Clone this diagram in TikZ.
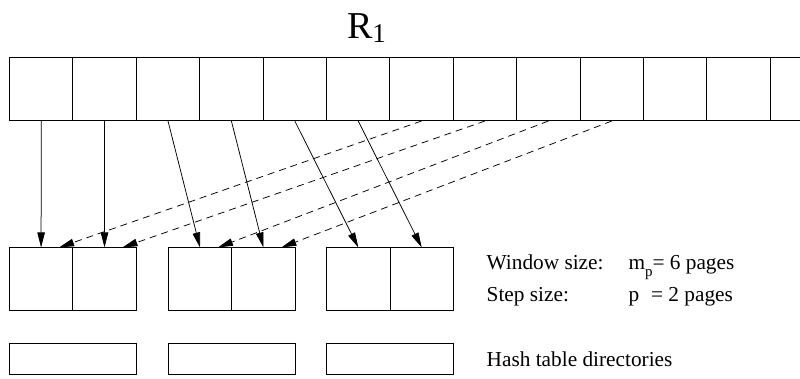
\documentclass[tikz,border=0pt]{standalone}
\usepackage{fontspec}
\setmainfont{Liberation Serif}
\usetikzlibrary{positioning,arrows.meta}

\tikzset{
  page/.style={draw, line width=1pt, minimum width=63.4pt, minimum height=63.5pt, inner sep=0pt, outer sep=0pt},
  dirbox/.style={draw, line width=1pt, minimum width=126.8pt, minimum height=31pt, inner sep=0pt, outer sep=0pt},
  load/.style={-{Triangle[length=15pt,width=7.5pt]}, line width=0.75pt},
  probe/.style={load, dash pattern=on 7pt off 5pt},
  note/.style={anchor=base west, inner sep=0pt, font=\fontsize{21.3}{24}\selectfont}
}

\begin{document}
\begin{tikzpicture}[x=1pt,y=1pt]
\useasboundingbox (0,0) rectangle (800,378);
\clip (0,0) rectangle (800,378);

% relation R1, one page per cell (runs on past the right edge)
\foreach \i in {1,...,13}
  \node[page] (c\i) at ({41.2+63.4*(\i-1)},288.75) {};
\node[anchor=base, inner sep=0pt, font=\fontsize{38}{40}\selectfont] (rel) at (366.5,339.7)
  {R\raisebox{-0.1em}{\fontsize{27}{27}\selectfont 1}};

% window: three pairs of pages
\foreach \i/\x in {1/41.1, 2/104.5, 3/200, 4/263.4, 5/358.3, 6/421.7}
  \node[page] (w\i) at (\x,98.8) {};

% hash table directories
\foreach \i/\x in {1/73.1, 2/231.7, 3/390}
  \node[dirbox] (h\i) at (\x,19.2) {};

% pages read into the window
\foreach \i in {1,...,6}
  \draw[load] (c\i.south) -- (w\i.north);
\foreach \i/\j in {7/1, 8/2, 9/3, 10/4}
  \draw[probe] (c\i.south) -- ([xshift=18pt]w\j.north);

% legend
\node[note] (win) at (486.5,108.3) {Window size:};
\node[note] (winval) at (628.3,108.3) {m\raisebox{-0.3em}{\fontsize{15}{15}\selectfont p}= 6 pages};
\node[note] (step) at (486.5,76.7) {Step size:};
\node[note] (stepval) at (628.3,76.7) {p\hspace{12pt}= 2 pages};
\node[note] (dirs) at (486.5,12) {Hash table directories};
\end{tikzpicture}
\end{document}
